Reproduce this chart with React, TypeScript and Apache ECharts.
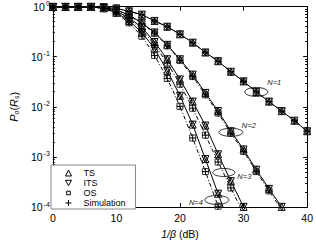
import React, { useEffect, useRef } from 'react';
import * as echarts from 'echarts';

// SNR axis (1/beta in dB), markers every 2 dB
const snrDb = [0, 2, 4, 6, 8, 10, 12, 14, 16, 18, 20, 22, 24, 26, 28, 30, 32, 34, 36, 38, 40];

// P_o(R_s)
const pN1 = [0.98, 0.98, 0.98, 0.98, 0.965, 0.916, 0.802, 0.688, 0.516, 0.396, 0.279, 0.19, 0.121, 0.0811, 0.05, 0.0321, 0.0198, 0.0127, 0.0082, 0.00528, 0.00325];
const pN2Ts = [0.98, 0.98, 0.98, 0.98, 0.95, 0.857, 0.673, 0.473, 0.304, 0.172, 0.0886, 0.0438, 0.0189, 0.0082, 0.00325, 0.00141, 0.000558, 0.000231, 0.000101];
const pN2Os = [0.98, 0.98, 0.98, 0.98, 0.948, 0.85, 0.66, 0.46, 0.295, 0.164, 0.0848, 0.0401, 0.0173, 0.0075, 0.00298, 0.00129, 0.000511, 0.000211, 0.0000877];
const pN3Ts = [0.98, 0.98, 0.98, 0.98, 0.935, 0.8, 0.6, 0.38, 0.196, 0.0886, 0.0351, 0.0127, 0.00423, 0.00113, 0.000329, 0.000101];
const pN3Os = [0.98, 0.98, 0.98, 0.98, 0.93, 0.78, 0.565, 0.347, 0.172, 0.0743, 0.0282, 0.00936, 0.00272, 0.000793, 0.000241, 0.0000735];
const pN4Ts = [0.98, 0.98, 0.98, 0.98, 0.92, 0.75, 0.516, 0.304, 0.144, 0.0522, 0.0166, 0.00442, 0.000906, 0.000185, 0.0000379];
const pN4Os = [0.98, 0.98, 0.98, 0.98, 0.915, 0.73, 0.473, 0.255, 0.106, 0.0367, 0.0102, 0.00239, 0.000511, 0.000104, 0.0000214];

const legendNames = ['TS', 'ITS', 'OS', 'Simulation'];
const curveLabels = ['N=1', 'N=2', 'N=3', 'N=4'];
const labelAnchorDb = [32, 28, 26.9, 25.8];
const labelAnchorP = [0.0198, 0.0031, 0.00049, 0.000139];

const FONT = '"Liberation Sans", Arial, Helvetica, sans-serif';
const TRI_DOWN = 'path://M0,0L10,0L5,9Z';
const PLUS = 'path://M0,5L10,5M5,0L5,10';
const SMALL_RECT = 'path://M0,0M10,10M2,2L8,2L8,8L2,8Z';

export default function App() {
  const ref = useRef<HTMLDivElement>(null);

  useEffect(() => {
    if (!ref.current) return;
    const chart = echarts.init(ref.current, undefined, { renderer: 'svg' });

    const curves = [
      { ts: pN1, os: pN1 },
      { ts: pN2Ts, os: pN2Os },
      { ts: pN3Ts, os: pN3Os },
      { ts: pN4Ts, os: pN4Os },
    ];
    const pts = (vals: number[]) => vals.map((v, i) => [snrDb[i], v]);
    const hollow = { color: 'rgba(0,0,0,0)', borderColor: '#000', borderWidth: 1 };
    const common = {
      type: 'line',
      xAxisIndex: 0,
      yAxisIndex: 0,
      showSymbol: true,
      showAllSymbol: true,
      silent: true,
      clip: true,
      emphasis: { disabled: true },
      symbolSize: 7,
    };

    const series: any[] = [];
    curves.forEach((c) => {
      series.push({
        ...common,
        name: 'TS',
        data: pts(c.ts),
        symbol: 'triangle',
        lineStyle: { color: '#000', width: 1 },
        itemStyle: hollow,
      });
      series.push({
        ...common,
        name: 'ITS',
        data: pts(c.ts),
        symbol: TRI_DOWN,
        lineStyle: { color: '#000', width: 1, opacity: 0 },
        itemStyle: hollow,
      });
      series.push({
        ...common,
        name: 'OS',
        data: pts(c.os),
        symbol: 'rect',
        symbolSize: 6,
        lineStyle: { color: '#000', width: 1, type: [4, 2, 1, 2] },
        itemStyle: { ...hollow, borderColor: '#333' },
      });
      series.push({
        ...common,
        name: 'Simulation',
        data: pts(c.os),
        symbol: PLUS,
        lineStyle: { color: '#000', width: 1, opacity: 0 },
        itemStyle: hollow,
      });
    });

    const minorTicks: number[] = [];
    for (let e = -4; e <= -1; e++) {
      for (let m = 2; m <= 9; m++) minorTicks.push(Number((m * Math.pow(10, e)).toPrecision(3)));
    }

    const yBase = {
      type: 'log',
      logBase: 10,
      min: 0.0001,
      max: 1,
      gridIndex: 0,
      splitLine: { show: false },
    };
    const xBase = {
      type: 'value',
      min: 0,
      max: 40,
      interval: 10,
      gridIndex: 0,
      splitLine: { show: false },
    };

    const option: any = {
      animation: false,
      backgroundColor: '#fff',
      grid: { left: 43, top: 6, width: 267, height: 209, containLabel: false },
      xAxis: [
        {
          ...xBase,
          position: 'bottom',
          axisLine: { show: true, lineStyle: { color: '#000', width: 1 } },
          axisTick: { show: true, inside: true, length: 4, lineStyle: { color: '#000' } },
          axisLabel: { show: true, color: '#000', fontSize: 10.5, fontFamily: FONT, margin: 5 },
          name: '{i|1/β} (dB)',
          nameLocation: 'middle',
          nameGap: 15,
          nameTextStyle: {
            color: '#000',
            fontSize: 10.5,
            fontFamily: FONT,
            rich: { i: { fontStyle: 'italic', fontSize: 10.5, fontFamily: FONT, color: '#000' } },
          },
        },
        {
          ...xBase,
          position: 'top',
          axisLine: { show: true, lineStyle: { color: '#000', width: 1 } },
          axisTick: { show: true, inside: true, length: 4, lineStyle: { color: '#000' } },
          axisLabel: { show: false },
        },
      ],
      yAxis: [
        {
          ...yBase,
          position: 'left',
          axisLine: { show: true, lineStyle: { color: '#000', width: 1 } },
          axisTick: { show: true, inside: true, length: 4, lineStyle: { color: '#000' } },
          axisLabel: {
            show: true,
            margin: 3,
            formatter: (v: number) => `{b|10}{s|${Math.round(Math.log10(v))}}`,
            rich: {
              b: { fontSize: 10.5, fontFamily: FONT, color: '#000', lineHeight: 13 },
              s: { fontSize: 7, fontFamily: FONT, color: '#000', lineHeight: 7, verticalAlign: 'top', padding: [0, 0, 0, 1] },
            },
          },
          name: '{i|P}{s|o}{n|(}{i|R}{s|s}{n|)}',
          nameLocation: 'middle',
          nameGap: 26,
          nameTextStyle: {
            color: '#000',
            fontFamily: FONT,
            rich: {
              i: { fontStyle: 'italic', fontSize: 11, fontFamily: FONT, color: '#000', lineHeight: 13 },
              n: { fontSize: 11, fontFamily: FONT, color: '#000', lineHeight: 13 },
              s: { fontStyle: 'italic', fontSize: 7, fontFamily: FONT, color: '#000', lineHeight: 7, verticalAlign: 'bottom' },
            },
          },
        },
        {
          ...yBase,
          position: 'left',
          axisLine: { show: false },
          axisTick: { show: true, inside: true, length: 2, customValues: minorTicks, lineStyle: { color: '#000' } },
          axisLabel: { show: false },
        },
        {
          ...yBase,
          position: 'right',
          axisLine: { show: true, lineStyle: { color: '#000', width: 1 } },
          axisTick: { show: true, inside: true, length: 4, lineStyle: { color: '#000' } },
          axisLabel: { show: false },
        },
        {
          ...yBase,
          position: 'right',
          axisLine: { show: false },
          axisTick: { show: true, inside: true, length: 2, customValues: minorTicks, lineStyle: { color: '#000' } },
          axisLabel: { show: false },
        },
      ],
      legend: {
        show: true,
        orient: 'vertical',
        left: 51,
        top: 165,
        padding: [3, 10, 1, 14],
        itemGap: 0,
        itemWidth: 6,
        itemHeight: 6,
        symbolKeepAspect: true,
        backgroundColor: '#fff',
        borderColor: '#888',
        borderWidth: 1,
        selectedMode: false,
        textStyle: { color: '#000', fontSize: 9, fontFamily: FONT, lineHeight: 10, height: 10, padding: [0, 0, 0, 7] },
        itemStyle: { color: 'rgba(0,0,0,0)', borderColor: '#000', borderWidth: 1 },
        data: [
          { name: legendNames[0], icon: 'triangle' },
          { name: legendNames[1], icon: TRI_DOWN },
          { name: legendNames[2], icon: SMALL_RECT },
          { name: legendNames[3], icon: PLUS },
        ],
      },
      series,
    };

    chart.setOption(option);

    const layouts = [
      { rx: 11.5, ry: 4.5, dx: 11, dy: -9, align: 'left' },
      { rx: 12, ry: 4, dx: 11, dy: -7, align: 'left' },
      { rx: 11, ry: 4, dx: 13.5, dy: 4, align: 'left' },
      { rx: 12, ry: 4.5, dx: -14, dy: 2.5, align: 'right' },
    ];
    const graphic: any[] = [];
    curveLabels.forEach((lab, i) => {
      const p = chart.convertToPixel({ xAxisIndex: 0, yAxisIndex: 0 } as any, [labelAnchorDb[i], labelAnchorP[i]]) as number[];
      if (!p) return;
      const L = layouts[i];
      graphic.push({
        type: 'ellipse',
        silent: true,
        z: 10,
        shape: { cx: p[0], cy: p[1], rx: L.rx, ry: L.ry },
        style: { fill: 'none', stroke: '#000', lineWidth: 0.8 },
      });
      graphic.push({
        type: 'text',
        silent: true,
        z: 10,
        x: p[0] + L.dx,
        y: p[1] + L.dy,
        style: {
          text: lab,
          fill: '#222',
          fontSize: 7.5,
          fontStyle: 'italic',
          fontFamily: FONT,
          align: L.align,
          verticalAlign: 'middle',
        },
      });
    });
    chart.setOption({ graphic });

    return () => {
      chart.dispose();
    };
  }, []);

  return (
    <div
      ref={ref}
      style={{ position: 'fixed', left: 0, top: 0, width: 316, height: 244, background: '#fff' }}
    />
  );
}
